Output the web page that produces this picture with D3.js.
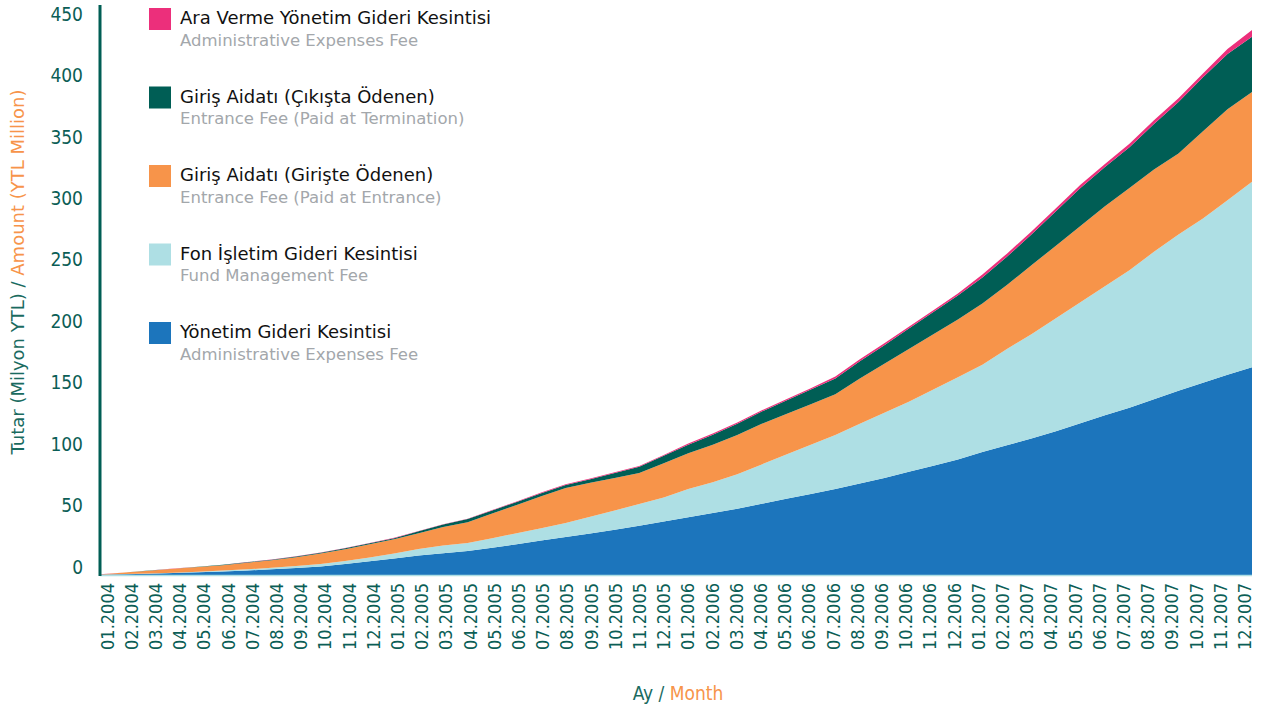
<!DOCTYPE html>
<html>
<head>
<meta charset="utf-8">
<script src="https://cdn.jsdelivr.net/npm/d3@7"></script>
<style>
html,body{margin:0;padding:0;background:#fff;}
svg{display:block;font-family:"DejaVu Sans Condensed","DejaVu Sans",sans-serif;}
.reg{font-family:"DejaVu Sans",sans-serif;}
</style>
</head>
<body>
<svg id="chart" width="1261" height="708"></svg>
<script>
const months = ["01.2004","02.2004","03.2004","04.2004","05.2004","06.2004","07.2004","08.2004","09.2004","10.2004","11.2004","12.2004",
"01.2005","02.2005","03.2005","04.2005","05.2005","06.2005","07.2005","08.2005","09.2005","10.2005","11.2005","12.2005",
"01.2006","02.2006","03.2006","04.2006","05.2006","06.2006","07.2006","08.2006","09.2006","10.2006","11.2006","12.2006",
"01.2007","02.2007","03.2007","04.2007","05.2007","06.2007","07.2007","08.2007","09.2007","10.2007","11.2007","12.2007"];

// Yönetim Gideri Kesintisi / Administrative Expenses Fee
const adminFee = [0.3,0.7,1.1,1.6,2.2,2.9,3.7,4.6,5.7,7.0,9.0,11.2,
13.5,15.8,17.6,19.5,22.2,25.0,28.0,31.0,33.7,36.8,40.0,43.5,
47.0,50.5,54.0,58.0,62.0,66.0,70.0,74.5,79.0,84.0,89.0,94.0,
100.0,105.5,111.0,117.0,123.5,130.0,136.0,143.0,150.0,156.5,163.0,169.0];
// Fon İşletim Gideri Kesintisi / Fund Management Fee
const fundFee = [0.0,0.1,0.2,0.3,0.5,0.7,0.9,1.2,1.6,2.0,2.4,3.0,
4.0,5.4,6.4,6.5,7.8,9.0,10.0,11.3,13.8,15.7,17.8,19.5,
23.0,25.0,28.0,32.0,36.0,40.0,44.0,48.5,53.0,57.0,62.0,67.0,
71.0,78.5,85.0,92.0,98.5,105.0,112.0,120.0,127.0,133.5,142.0,151.0];
// Giriş Aidatı (Girişte Ödenen) / Entrance Fee (Paid at Entrance)
const entranceFeeIn = [0.2,1.2,2.2,3.1,3.8,4.4,5.4,6.2,7.2,8.5,9.6,10.8,
11.5,12.8,15.0,17.0,20.0,23.0,26.0,28.5,27.5,26.5,25.2,28.0,
29.0,30.5,32.0,33.0,33.0,33.0,33.0,37.0,40.0,43.0,45.0,47.0,
50.0,52.0,56.0,59.0,62.0,65.0,67.0,67.0,66.0,71.0,74.0,73.0];
// Giriş Aidatı (Çıkışta Ödenen) / Entrance Fee (Paid at Termination)
const entranceFeeOut = [0.0,0.0,0.1,0.1,0.2,0.3,0.4,0.5,0.6,0.7,0.8,0.9,
1.0,1.5,2.0,2.5,2.5,2.5,2.5,2.5,3.0,4.0,5.0,6.0,
7.0,8.2,9.0,10.0,11.0,12.0,13.0,14.0,15.0,16.5,18.0,19.5,
21.0,23.0,25.0,28.0,31.0,32.0,33.0,37.0,42.0,44.0,45.0,45.0];
// Ara Verme Yönetim Gideri Kesintisi / Administrative Expenses Fee
const pauseAdminFee = [0.1,0.1,0.1,0.1,0.1,0.1,0.1,0.1,0.1,0.1,0.1,0.1,
0.3,0.3,0.3,0.3,0.3,0.3,0.6,0.6,0.6,0.6,0.6,0.6,
1.0,1.0,1.0,1.0,1.0,1.0,1.5,1.5,1.5,1.5,1.5,1.5,
2.5,2.5,2.5,2.5,2.5,2.5,3.0,3.0,3.0,3.0,4.0,5.5];

const yTicks = [0,50,100,150,200,250,300,350,400,450];

const seriesKeys = ["admin","fund","entIn","entOut","pause"];
const seriesColors = {admin:"#1c75bc", fund:"#aedfe4", entIn:"#f7944a", entOut:"#005e55", pause:"#ec2f7b"};
const legendTr = ["Ara Verme Yönetim Gideri Kesintisi","Giriş Aidatı (Çıkışta Ödenen)","Giriş Aidatı (Girişte Ödenen)","Fon İşletim Gideri Kesintisi","Yönetim Gideri Kesintisi"];
const legendEn = ["Administrative Expenses Fee","Entrance Fee (Paid at Termination)","Entrance Fee (Paid at Entrance)","Fund Management Fee","Administrative Expenses Fee"];
const legendKeys = ["pause","entOut","entIn","fund","admin"];

const table = months.map((m,i)=>({month:m, admin:adminFee[i], fund:fundFee[i], entIn:entranceFeeIn[i], entOut:entranceFeeOut[i], pause:pauseAdminFee[i]}));

const svg = d3.select("#chart");
const x = d3.scalePoint().domain(months).range([100,1252]);
const xLab = d3.scalePoint().domain(months).range([100,1252]).padding(0.3);
const y = d3.scaleLinear().domain([0,450]).range([575,22]);

const stack = d3.stack().keys(seriesKeys)(table);
const area = d3.area().x(d=>x(d.data.month)).y0(d=>y(d[0])).y1(d=>y(d[1]));

svg.append("g").selectAll("path").data(stack).join("path")
  .attr("d", area).attr("fill", d=>seriesColors[d.key]);

// baseline
svg.append("line").attr("x1",100).attr("x2",1252).attr("y1",575.5).attr("y2",575.5)
  .attr("stroke","#aedfe4").attr("stroke-width",1.5);

// y axis line
svg.append("line").attr("x1",100).attr("x2",100).attr("y1",5).attr("y2",576)
  .attr("stroke","#005e55").attr("stroke-width",3);

const tickColor = "#0b5e56";
svg.append("g").selectAll("text").data(yTicks).join("text")
  .attr("x",83).attr("y",d=>y(d)-8).attr("dy","0.35em")
  .attr("text-anchor","end").attr("fill",tickColor).attr("font-size",19)
  .text(d=>d);

svg.append("g").selectAll("text").data(months).join("text")
  .attr("transform",d=>`translate(${xLab(d)},583) rotate(-90)`)
  .attr("dy","0.35em").attr("text-anchor","end").attr("fill",tickColor).attr("font-size",18)
  .text(d=>d);

// axis titles
const yt = svg.append("text").attr("class","reg").attr("transform","translate(18,272) rotate(-90)")
  .attr("text-anchor","middle").attr("dy","0.35em").attr("font-size",18);
yt.append("tspan").attr("fill","#1a6b5f").text("Tutar (Milyon YTL) / ");
yt.append("tspan").attr("fill","#f7944a").text("Amount (YTL Million)");

const xt = svg.append("text").attr("x",678).attr("y",693).attr("dy","0.35em")
  .attr("text-anchor","middle").attr("font-size",19);
xt.append("tspan").attr("fill","#1a6b5f").text("Ay / ");
xt.append("tspan").attr("fill","#f7944a").text("Month");

// legend
const lg = svg.append("g").selectAll("g").data(legendKeys).join("g")
  .attr("transform",(d,i)=>`translate(149,${8+i*78.5})`);
lg.append("rect").attr("width",22).attr("height",22).attr("fill",d=>seriesColors[d]);
lg.append("text").attr("class","reg").attr("x",31).attr("y",10).attr("dy","0.35em").attr("font-size",18)
  .attr("fill","#111").text((d,i)=>legendTr[i]);
lg.append("text").attr("class","reg").attr("x",31).attr("y",32).attr("dy","0.35em").attr("font-size",16.5)
  .attr("fill","#a3a7ab").text((d,i)=>legendEn[i]);
</script>
</body>
</html>
